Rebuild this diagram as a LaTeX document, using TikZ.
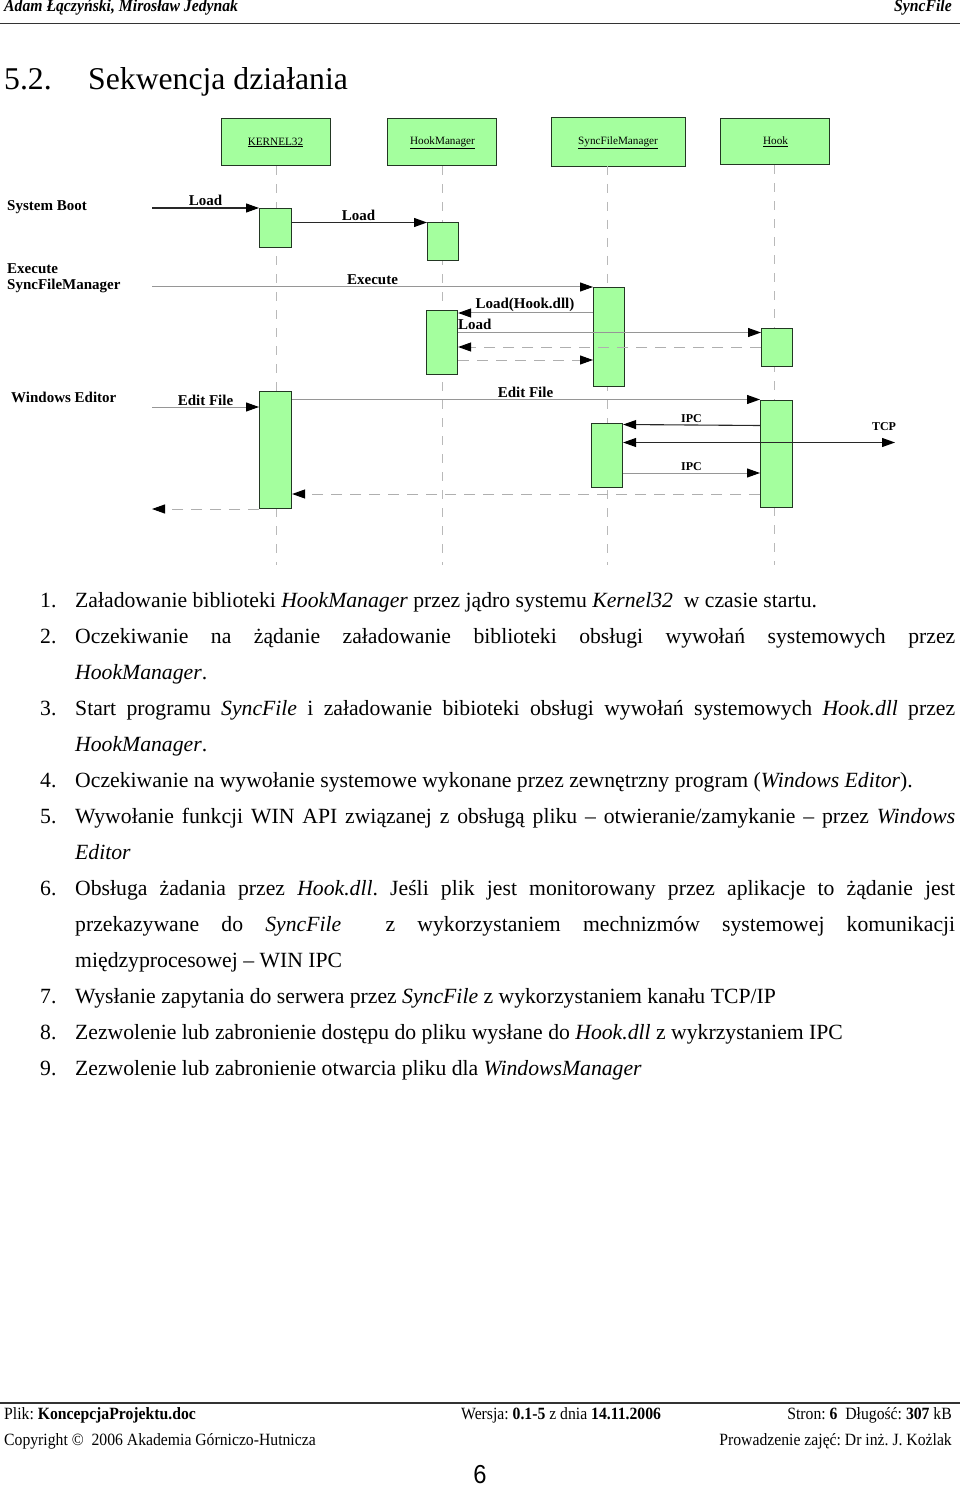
\documentclass[tikz,border=0pt]{standalone}
\usepackage{fontspec}
\setmainfont{Liberation Serif}
\newfontfamily\arialf{Liberation Sans}
\usetikzlibrary{arrows.meta}
\frenchspacing
\definecolor{boxgreen}{RGB}{164,255,158}
\definecolor{boxedge}{RGB}{35,55,35}
\definecolor{msgdark}{RGB}{40,40,40}
\definecolor{msggray}{RGB}{150,150,150}
\definecolor{dashgray}{RGB}{175,175,175}
\definecolor{lifegray}{RGB}{185,185,185}
\newcommand{\sqz}[1]{\scalebox{0.913}[1]{#1}}
\newcommand{\fhdr}{\fontsize{17.2}{20}\selectfont}
\newcommand{\fbody}{\fontsize{21.7}{25}\selectfont}
\newcommand{\fhead}{\fontsize{31.7}{36}\selectfont}
\newcommand{\flbl}{\fontsize{15}{17}\selectfont\bfseries}
\newcommand{\fsml}{\fontsize{12}{14}\selectfont\bfseries}
\newcommand{\fhbx}{\fontsize{11.2}{12}\selectfont}
\newcommand{\jl}[1]{\makebox[880pt][s]{#1}}
\tikzset{
  headbox/.style={draw=boxedge, fill=boxgreen, line width=1.3pt, inner sep=0pt, anchor=north west},
  actbox/.style={draw=boxedge, fill=boxgreen, line width=1.1pt, inner sep=0pt, anchor=north west},
  life/.style={draw=lifegray, line width=1pt, dash pattern=on 9pt off 9pt},
  tipend/.style={-{Triangle[length=13pt,width=9pt,color=black]}},
  tipboth/.style={{Triangle[length=13pt,width=9pt,color=black]}-{Triangle[length=13pt,width=9pt,color=black]}},
  msgk/.style={draw=msgdark, line width=1.1pt, tipend},
  msgg/.style={draw=msggray, line width=1pt, tipend},
  ret/.style={draw=dashgray, line width=1pt, dash pattern=on 11pt off 8pt, tipend},
  lbl/.style={font=\flbl, inner sep=0pt},
  slbl/.style={font=\fsml, inner sep=0pt},
  hlbl/.style={font=\fhbx, inner sep=0pt},
  side/.style={font=\flbl, inner sep=0pt, anchor=west},
  bodyt/.style={font=\fbody, inner sep=0pt, anchor=base west},
  pagef/.style={font=\fhdr, inner sep=0pt},
}
\begin{document}
\begin{tikzpicture}[x=1pt,y=-1pt]
\useasboundingbox (0,0) rectangle (960,1487);
\fill[white] (0,0) rectangle (960,1487);

% page header
\node[pagef, anchor=base west] (hdl) at (4,12) {\sqz{\textbf{\textit{Adam Łączyński, Mirosław Jedynak}}}};
\node[pagef, anchor=base east] (hdr) at (952,12) {\sqz{\textbf{\textit{SyncFile}}}};
\draw[line width=1.6pt, black!80] (0,23.5) -- (960,23.5);

% heading
\node[font=\fhead, inner sep=0pt, anchor=base west] (hnum) at (4,90) {5.2.};
\node[font=\fhead, inner sep=0pt, anchor=base west] (htit) at (88,90) {Sekwencja działania};

% lifeline heads
\node[headbox, minimum width=109, minimum height=47] (kh) at (221,118) {};
\node[headbox, minimum width=109, minimum height=47] (hh) at (387,118) {};
\node[headbox, minimum width=134, minimum height=49] (sh) at (551,117) {};
\node[headbox, minimum width=109, minimum height=46] (oh) at (720,118) {};
\node[hlbl] (khl) at (275.5,142.5) {\underline{KERNEL32}};
\node[hlbl] (hhl) at (442.5,142.5) {\underline{HookManager}};
\node[hlbl] (shl) at (618,143) {\underline{SyncFileManager}};
\node[hlbl] (ohl) at (775.5,142) {\underline{Hook}};

% lifelines
\draw[life] (kh.south) -- (kh.south |- 0,565);
\draw[life] (hh.south) -- (hh.south |- 0,565);
\draw[life] (607,166) -- (607,565);
\draw[life] (oh.south -| 774,0) -- (774,565);

% activation boxes
\node[actbox, minimum width=32, minimum height=39] (k1) at (259,208) {};
\node[actbox, minimum width=31, minimum height=38] (hm1) at (427,222) {};
\node[actbox, minimum width=31, minimum height=99] (sf1) at (593,287) {};
\node[actbox, minimum width=31, minimum height=64] (hm2) at (426,310) {};
\node[actbox, minimum width=31, minimum height=38] (ho1) at (761,328) {};
\node[actbox, minimum width=32, minimum height=117] (k2) at (259,391) {};
\node[actbox, minimum width=32, minimum height=107] (ho2) at (760,400) {};
\node[actbox, minimum width=31, minimum height=64] (sf2) at (591,423) {};

% side labels
\node[side] (sb) at (7,207) {System Boot};
\node[side] (ex1) at (7,269) {Execute};
\node[side] (ex2) at (7,286) {SyncFileManager};
\node[side] (we) at (11,397) {Windows Editor};

% free ends
\coordinate (c1) at (152,208);
\coordinate (c2) at (152,287);
\coordinate (c3) at (152,407);
\coordinate (c4) at (152,509);
\coordinate (c5) at (895,442.5);

% messages
\draw[msgk] (c1) -- (k1.north west);
\node[lbl] (l1) at (205.5,200.5) {Load};
\draw[msgk] (k1.east |- 0,222.5) -- (hm1.west |- 0,222.5);
\node[lbl] (l2) at (358.5,215) {Load};
\draw[msgg] (c2) -- (sf1.north west);
\node[lbl] (l3) at (372.5,279.5) {Execute};
\draw[msgg] (sf1.west |- 0,313) -- (hm2.east |- 0,313);
\node[lbl] (l4) at (525,304.5) {Load(Hook.dll)};
\draw[msgg] (hm2.east |- 0,332.5) -- (ho1.west |- 0,332.5);
\node[lbl, anchor=west] (l5) at (458,324.5) {Load};
\draw[ret] (ho1.west |- 0,347) -- (hm2.east |- 0,347);
\draw[ret] (hm2.east |- 0,360) -- (sf1.west |- 0,360);

\draw[msgg] (c3) -- (k2.west |- c3);
\node[lbl] (l6) at (205.5,400) {Edit File};
\draw[msgg] (k2.east |- 0,399.5) -- (ho2.west |- 0,399.5);
\node[lbl] (l7) at (525.5,392) {Edit File};
\draw[msgk] (ho2.west |- 0,425.5) -- (sf2.east |- 0,424.5);
\node[slbl] (l8) at (691.5,419) {IPC};
\draw[msgk, tipboth] (sf2.east |- c5) -- (c5);
\node[slbl] (l9) at (884,427) {TCP};
\draw[msgg] (sf2.east |- 0,473) -- (ho2.west |- 0,473);
\node[slbl] (l10) at (691.5,466.5) {IPC};
\draw[ret] (ho2.west |- 0,494) -- (k2.east |- 0,494);
\draw[ret] (k2.west |- c4) -- (c4);

% numbered list
\node[bodyt] (n1) at (40,607) {1.};
\node[bodyt] (t1) at (75,607) {Załadowanie biblioteki \textit{HookManager} przez jądro systemu \textit{Kernel32}\ \ w czasie startu.};
\node[bodyt] (n2) at (40,643) {2.};
\node[bodyt] (t2) at (75,643) {\jl{Oczekiwanie na żądanie załadowanie biblioteki obsługi wywołań systemowych przez}};
\node[bodyt] (t2b) at (75,679) {\textit{HookManager}.};
\node[bodyt] (n3) at (40,715) {3.};
\node[bodyt] (t3) at (75,715) {\jl{Start programu \textit{SyncFile} i załadowanie bibioteki obsługi wywołań systemowych \textit{Hook.dll} przez}};
\node[bodyt] (t3b) at (75,751) {\textit{HookManager}.};
\node[bodyt] (n4) at (40,787) {4.};
\node[bodyt] (t4) at (75,787) {Oczekiwanie na wywołanie systemowe wykonane przez zewnętrzny program (\textit{Windows Editor}).};
\node[bodyt] (n5) at (40,823) {5.};
\node[bodyt] (t5) at (75,823) {\jl{Wywołanie funkcji WIN API związanej z obsługą pliku – otwieranie/zamykanie – przez \textit{Windows}}};
\node[bodyt] (t5b) at (75,859) {\textit{Editor}};
\node[bodyt] (n6) at (40,895) {6.};
\node[bodyt] (t6) at (75,895) {\jl{Obsługa żadania przez \textit{Hook.dll}. Jeśli plik jest monitorowany przez aplikacje to żądanie jest}};
\node[bodyt] (t6b) at (75,931) {\jl{przekazywane do \textit{SyncFile}\ \ z wykorzystaniem mechnizmów systemowej komunikacji}};
\node[bodyt] (t6c) at (75,967) {międzyprocesowej – WIN IPC};
\node[bodyt] (n7) at (40,1003) {7.};
\node[bodyt] (t7) at (75,1003) {Wysłanie zapytania do serwera przez \textit{SyncFile} z wykorzystaniem kanału TCP/IP};
\node[bodyt] (n8) at (40,1039) {8.};
\node[bodyt] (t8) at (75,1039) {Zezwolenie lub zabronienie dostępu do pliku wysłane do \textit{Hook.dll} z wykrzystaniem IPC};
\node[bodyt] (n9) at (40,1075) {9.};
\node[bodyt] (t9) at (75,1075) {Zezwolenie lub zabronienie otwarcia pliku dla \textit{WindowsManager}};

% footer
\draw[line width=1.3pt, black!80] (0,1403) -- (960,1403);
\node[pagef, anchor=base west] (f1) at (4,1419) {\sqz{Plik: \textbf{KoncepcjaProjektu.doc}}};
\node[pagef, anchor=base west] (f2) at (461,1419) {\sqz{Wersja: \textbf{0.1-5} z dnia \textbf{14.11.2006}}};
\node[pagef, anchor=base east] (f3) at (952,1419) {\sqz{Stron: \textbf{6}\ \ Długość: \textbf{307} kB}};
\node[pagef, anchor=base west] (f4) at (4,1445) {\sqz{Copyright ©\ \ 2006 Akademia Górniczo-Hutnicza}};
\node[pagef, anchor=base east] (f5) at (952,1445) {\sqz{Prowadzenie zajęć: Dr inż. J. Kożlak}};
\node[font=\arialf\fontsize{26}{28}\selectfont, inner sep=0pt, anchor=base] (pg) at (480,1483) {\sqz{6}};
\end{tikzpicture}
\end{document}
